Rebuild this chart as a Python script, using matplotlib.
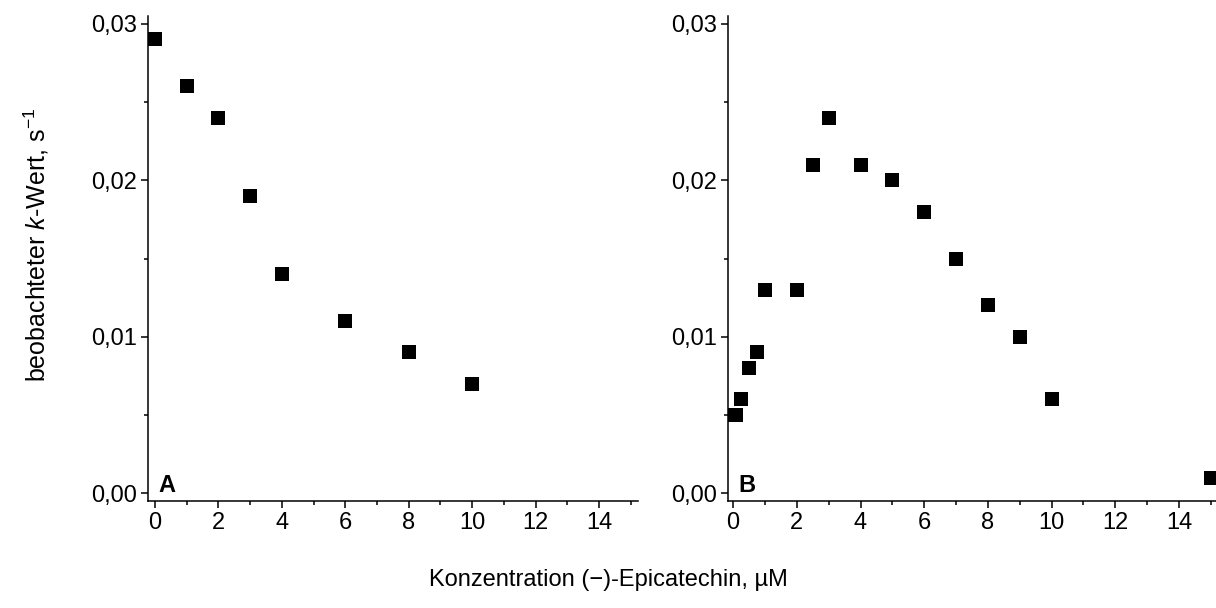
import matplotlib
matplotlib.use("Agg")
import matplotlib.pyplot as plt
from matplotlib.ticker import MultipleLocator, FuncFormatter

plt.rcParams['font.family'] = ['Liberation Sans', 'DejaVu Sans']
plt.rcParams['mathtext.fontset'] = 'custom'
plt.rcParams['mathtext.rm'] = 'Liberation Sans'
plt.rcParams['mathtext.it'] = 'Liberation Sans:italic'

# panel A
conc_a = [0, 1, 2, 3, 4, 6, 8, 10]
k_a = [0.029, 0.026, 0.024, 0.019, 0.014, 0.011, 0.009, 0.007]

# panel B
conc_b = [0, 0.1, 0.25, 0.5, 0.75, 1, 2, 2.5, 3, 4, 5, 6, 7, 8, 9, 10, 15]
k_b = [0.005, 0.005, 0.006, 0.008, 0.009, 0.013, 0.013, 0.021, 0.024,
       0.021, 0.020, 0.018, 0.015, 0.012, 0.010, 0.006, 0.001]

panel_labels = ['A', 'B']

fig = plt.figure(figsize=(12.16, 6.08), dpi=100)
ax_a = fig.add_axes([148/1216, 107/608, 490/1216, 485/608])
ax_b = fig.add_axes([728/1216, 107/608, 488/1216, 485/608])

comma_fmt = FuncFormatter(lambda v, pos: '{:.2f}'.format(v).replace('.', ','))

for ax, xs, ys, lab, xl in [(ax_a, conc_a, k_a, panel_labels[0], (-0.22, 15.23)),
                            (ax_b, conc_b, k_b, panel_labels[1], (-0.16, 15.16))]:
    ax.plot(xs, ys, 's', color='black', markersize=9.5, markeredgewidth=0)
    ax.set_xlim(*xl)
    ax.set_ylim(-0.0005, 0.0305)
    ax.spines['top'].set_visible(False)
    ax.spines['right'].set_visible(False)
    ax.spines['left'].set_linewidth(1.1)
    ax.spines['bottom'].set_linewidth(1.1)
    ax.xaxis.set_major_locator(MultipleLocator(2))
    ax.xaxis.set_minor_locator(MultipleLocator(1))
    ax.yaxis.set_major_locator(MultipleLocator(0.01))
    ax.yaxis.set_minor_locator(MultipleLocator(0.005))
    ax.yaxis.set_major_formatter(comma_fmt)
    ax.tick_params(which='major', direction='out', length=5, width=1.1,
                   labelsize=17, pad=3)
    ax.tick_params(which='minor', direction='out', length=3, width=1.1)
    ax.text(0.022, 0.008, lab, transform=ax.transAxes, fontsize=17,
            fontweight='bold', ha='left', va='bottom')

fig.text(36/1216, 1 - 245/608, r'beobachteter $\mathit{k}$-Wert, s$^{-1}$',
         rotation=90, ha='center', va='center', fontsize=18)
fig.text(0.5, 1 - 580/608, 'Konzentration (\u2212)-Epicatechin, µM',
         ha='center', va='center', fontsize=17)

fig.savefig('out.png', dpi=100)
